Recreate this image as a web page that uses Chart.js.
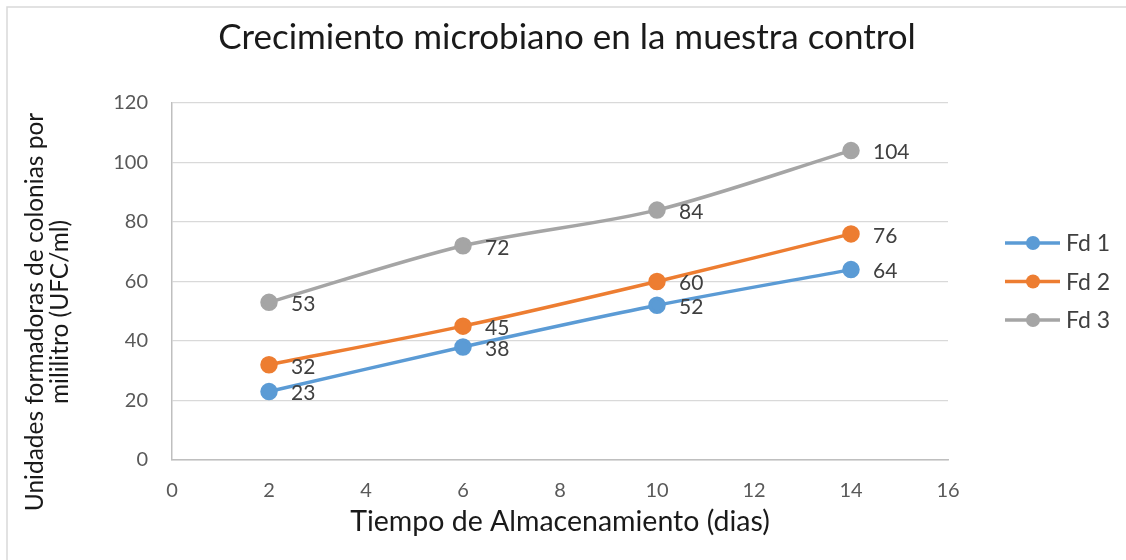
<!DOCTYPE html>
<html lang="es">
<head>
<meta charset="UTF-8">
<title>Crecimiento microbiano en la muestra control</title>
<script src="https://cdn.jsdelivr.net/npm/chart.js"></script>
<style>
body { margin: 0; padding: 0; background: #fff; }
#wrap { width: 1126px; height: 560px; position: relative; }
</style>
</head>
<body>
<div id="wrap"><canvas id="chart"></canvas></div>

<script>
// datos
const dias = [2, 6, 10, 14];
const fd1 = [23, 38, 52, 64];
const fd2 = [32, 45, 60, 76];
const fd3 = [53, 72, 84, 104];
const series = ['Fd 1', 'Fd 2', 'Fd 3'];
const colores = ['#5B9BD5', '#ED7D31', '#A5A5A5'];
const titulo = 'Crecimiento microbiano en la muestra control';
const tituloY = ['Unidades formadoras de colonias por', 'mililitro (UFC/ml)'];

const FONT = 'Lato, "Open Sans", sans-serif';
const TEXTO = '#404040';
const NEGRO = '#1a1a1a';

function puntos(vals) {
  return dias.map((d, i) => ({ x: d, y: vals[i] }));
}

const datasets = [fd1, fd2, fd3].map((vals, i) => ({
  label: series[i],
  data: puntos(vals),
  borderColor: colores[i],
  backgroundColor: colores[i],
  borderWidth: 3.5,
  pointRadius: 7,
  pointHoverRadius: 7,
  tension: 0.3,
  fill: false
}));

// titulo, borde, etiquetas de datos y leyenda
const extras = {
  id: 'extras',
  afterDraw(chart) {
    const ctx = chart.ctx;
    ctx.save();
    // borde exterior
    ctx.strokeStyle = '#d9d9d9';
    ctx.lineWidth = 1.5;
    ctx.beginPath();
    ctx.moveTo(7, 560);
    ctx.lineTo(7, 7);
    ctx.lineTo(1126, 7);
    ctx.stroke();

    // titulo
    ctx.fillStyle = NEGRO;
    ctx.font = '35px ' + FONT;
    ctx.textAlign = 'center';
    ctx.textBaseline = 'middle';
    ctx.fillText(titulo, 567, 38);

    // titulo del eje y (dos lineas)
    ctx.save();
    ctx.translate(35, 312);
    ctx.rotate(-Math.PI / 2);
    ctx.font = '24.5px ' + FONT;
    tituloY.forEach((t, k) => ctx.fillText(t, 0, k * 25));
    ctx.restore();

    // etiquetas
    ctx.fillStyle = TEXTO;
    ctx.font = '21px ' + FONT;
    ctx.textAlign = 'left';
    chart.data.datasets.forEach((ds, i) => {
      chart.getDatasetMeta(i).data.forEach((pt, j) => {
        ctx.fillText(String(ds.data[j].y), pt.x + 22, pt.y + 2);
      });
    });

    // leyenda
    chart.data.datasets.forEach((ds, i) => {
      const y = 243 + i * 38.5;
      ctx.strokeStyle = ds.borderColor;
      ctx.lineWidth = 3.5;
      ctx.beginPath();
      ctx.moveTo(1005, y);
      ctx.lineTo(1060, y);
      ctx.stroke();
      ctx.fillStyle = ds.backgroundColor;
      ctx.beginPath();
      ctx.arc(1033, y, 7, 0, Math.PI * 2);
      ctx.fill();
      ctx.fillStyle = TEXTO;
      ctx.font = '23px ' + FONT;
      ctx.fillText(ds.label, 1066, y + 1);
    });
    ctx.restore();
  }
};

new Chart(document.getElementById('chart'), {
  type: 'line',
  data: { datasets: datasets },
  plugins: [extras],
  options: {
    responsive: true,
    maintainAspectRatio: false,
    animation: false,
    layout: { padding: { top: 103, right: 178, bottom: 0, left: 0 } },
    plugins: {
      legend: { display: false },
      title: { display: false },
      tooltip: { enabled: false }
    },
    scales: {
      x: {
        type: 'linear',
        min: 0,
        max: 16,
        ticks: { stepSize: 2, color: '#595959', font: { family: FONT, size: 20 }, padding: 19 },
        grid: { display: false, drawTicks: false },
        border: { color: '#bfbfbf', width: 1.5 },
        title: {
          display: true,
          text: 'Tiempo de Almacenamiento (dias)',
          color: NEGRO,
          font: { family: FONT, size: 28.5 },
          padding: { top: 0, bottom: 21 }
        },
        afterFit(scale) { scale.height = 100; }
      },
      y: {
        min: 0,
        max: 120,
        ticks: { stepSize: 20, color: '#595959', font: { family: FONT, size: 20 }, padding: 24 },
        grid: { color: '#d9d9d9', lineWidth: 1.2, drawTicks: false },
        border: { color: '#bfbfbf', width: 1.5 },
        afterFit(scale) { scale.width = 172; }
      }
    }
  }
});
</script>
</body>
</html>
